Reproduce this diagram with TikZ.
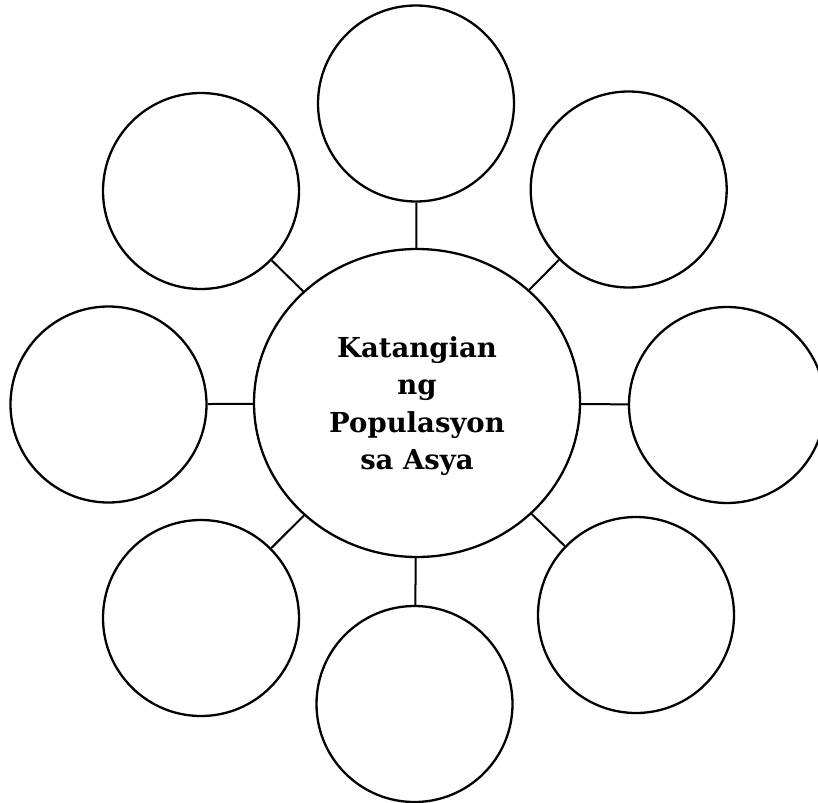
\documentclass[tikz,border=0pt]{standalone}
\usepackage{fontspec}
\setmainfont{DejaVu Serif}
\usetikzlibrary{shapes.geometric}
\begin{document}
\begin{tikzpicture}[x=1pt,y=-1pt,
  sat/.style={circle,draw=black,line width=2.3pt,minimum size=196pt,inner sep=0pt},
  hub/.style={ellipse,draw=black,line width=2.3pt,minimum width=326pt,minimum height=308pt,inner sep=0pt},
  lbl/.style={align=center,inner sep=0pt,font=\bfseries\fontsize{27.5}{37.5}\selectfont},
  link/.style={draw=black,line width=2pt}]
\useasboundingbox (0,0) rectangle (818,802);
\clip (0,0) rectangle (818,802);
\node[hub] (c) at (417,403) {};
\node[lbl] (txt) at (417,406) {Katangian\\ng\\Populasyon\\sa Asya};
\node[sat] (t) at (416,103.5) {};
\node[sat] (ur) at (628.7,189.5) {};
\node[sat] (r) at (727,405) {};
\node[sat] (lr) at (636,615) {};
\node[sat] (b) at (414.5,704) {};
\node[sat] (ll) at (201,618) {};
\node[sat] (l) at (108.5,404.5) {};
\node[sat] (ul) at (201,191) {};
\foreach \s in {t,ur,r,lr,b,ll,l,ul}{
  \path[link] (\s) -- (c);
}
\end{tikzpicture}
\end{document}
